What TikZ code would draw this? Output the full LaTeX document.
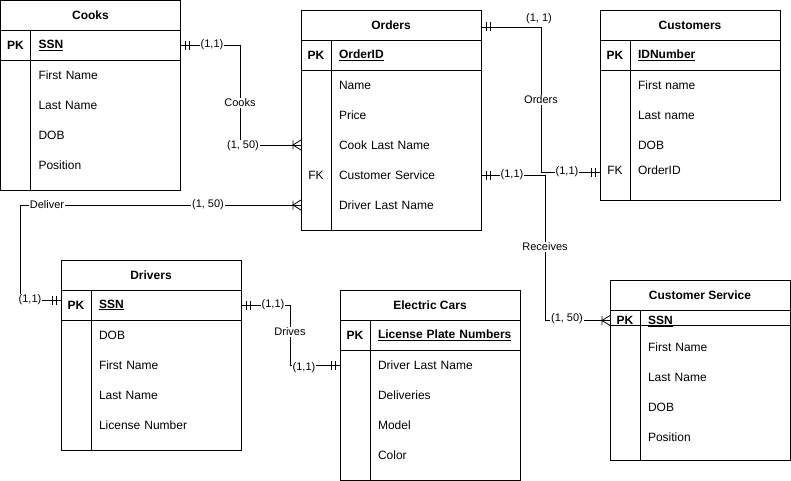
\documentclass[tikz,border=0pt]{standalone}
\usepackage{fontspec}
\setmainfont{Liberation Sans}
\usetikzlibrary{positioning}

\tikzset{
  tblhead/.style={draw, minimum width=180pt, minimum height=30pt, inner sep=0pt, anchor=north west, font=\fontsize{12}{14}\selectfont\bfseries},
  pkcell/.style={draw, minimum width=30pt, minimum height=30pt, inner sep=0pt, font=\fontsize{12}{14}\selectfont\bfseries},
  keycell/.style={draw, text width=134pt, inner xsep=8pt, inner ysep=0pt, minimum height=30pt, align=left, font=\fontsize{12}{14}\selectfont\bfseries},
  leftcol/.style={draw, minimum width=30pt, inner sep=0pt},
  rightcol/.style={draw, minimum width=150pt, inner sep=0pt},
  attr/.style={text width=134pt, inner xsep=8pt, inner ysep=0pt, minimum height=30pt, align=left, font=\fontsize{12}{14}\selectfont},
  fkcell/.style={minimum width=30pt, minimum height=30pt, inner sep=0pt, font=\fontsize{12}{14}\selectfont},
  rel/.style={fill=white, inner sep=1pt, font=\fontsize{11}{13}\selectfont},
  one/.pic={\draw (5,-4.5) -- (5,4.5) (9,-4.5) -- (9,4.5);},
  many/.pic={\draw (8,-4.5) -- (8,4.5) (0,-5) -- (8,0) -- (0,5);}
}

\begin{document}
\begin{tikzpicture}[x=1pt, y=-1pt, line width=0.8pt, every node/.append style={outer sep=0pt}]
\useasboundingbox (0,0) rectangle (791,481);
\fill[white] (0,0) rectangle (791,481);

\node[tblhead] (ctitle) at (0.5,0.5) {Cooks};
\node[pkcell, below right=0pt of ctitle.south west] (cpk) {PK};
\node[keycell, right=0pt of cpk] (ckey) {\underline{SSN}};
\node[leftcol, minimum height=130pt, below=0pt of cpk] (cleft) {};
\node[rightcol, minimum height=130pt, below=0pt of ckey] (cbody) {};
\node[attr, below=0pt of ckey] (cfirst) {First Name};
\node[attr, below=0pt of cfirst] (clast) {Last Name};
\node[attr, below=0pt of clast] (cdob) {DOB};
\node[attr, below=0pt of cdob] (cpos) {Position};

\node[tblhead] (otitle) at (301,10) {Orders};
\node[pkcell, below right=0pt of otitle.south west] (opk) {PK};
\node[keycell, right=0pt of opk] (okey) {\underline{OrderID}};
\node[leftcol, minimum height=160pt, below=0pt of opk] (oleft) {};
\node[rightcol, minimum height=160pt, below=0pt of okey] (obody) {};
\node[attr, below=0pt of okey] (oname) {Name};
\node[attr, below=0pt of oname] (oprice) {Price};
\node[attr, below=0pt of oprice] (ocook) {Cook Last Name};
\node[attr, below=0pt of ocook] (ocs) {Customer Service};
\node[attr, below=0pt of ocs] (odrv) {Driver Last Name};
\node[fkcell, left=0pt of ocs] (ofk) {FK};

\node[tblhead] (utitle) at (600,10) {Customers};
\node[pkcell, below right=0pt of utitle.south west] (upk) {PK};
\node[keycell, right=0pt of upk] (ukey) {\underline{IDNumber}};
\node[leftcol, minimum height=130pt, below=0pt of upk] (uleft) {};
\node[rightcol, minimum height=130pt, below=0pt of ukey] (ubody) {};
\node[attr, below=0pt of ukey] (ufirst) {First name};
\node[attr, below=0pt of ufirst] (ulast) {Last name};
\node[attr, below=0pt of ulast] (udob) {DOB};
\node[attr, below=0pt of udob, yshift=5pt] (uoid) {OrderID};
\node[fkcell, left=0pt of uoid] (ufk) {FK};

\node[tblhead] (dtitle) at (61,260) {Drivers};
\node[pkcell, below right=0pt of dtitle.south west] (dpk) {PK};
\node[keycell, right=0pt of dpk] (dkey) {\underline{SSN}};
\node[leftcol, minimum height=130pt, below=0pt of dpk] (dleft) {};
\node[rightcol, minimum height=130pt, below=0pt of dkey] (dbody) {};
\node[attr, below=0pt of dkey] (ddob) {DOB};
\node[attr, below=0pt of ddob] (dfirst) {First Name};
\node[attr, below=0pt of dfirst] (dlast) {Last Name};
\node[attr, below=0pt of dlast] (dlic) {License Number};

\node[tblhead] (etitle) at (340,290) {Electric Cars};
\node[pkcell, below right=0pt of etitle.south west] (epk) {PK};
\node[keycell, right=0pt of epk] (ekey) {\underline{License Plate Numbers}};
\node[leftcol, minimum height=130pt, below=0pt of epk] (eleft) {};
\node[rightcol, minimum height=130pt, below=0pt of ekey] (ebody) {};
\node[attr, below=0pt of ekey] (edrv) {Driver Last Name};
\node[attr, below=0pt of edrv] (edel) {Deliveries};
\node[attr, below=0pt of edel] (emod) {Model};
\node[attr, below=0pt of emod] (ecol) {Color};

\node[tblhead] (stitle) at (610,280) {Customer Service};
\node[pkcell, minimum height=15pt, text height=14pt, text depth=0pt, below right=0pt of stitle.south west] (spk) {PK};
\node[keycell, minimum height=15pt, text height=14pt, text depth=0pt, right=0pt of spk] (skey) {\underline{SSN}};
\node[leftcol, minimum height=135pt, below=0pt of spk] (sleft) {};
\node[rightcol, minimum height=135pt, below=0pt of skey] (sbody) {};
\node[attr, below=0pt of skey, yshift=-7pt] (sfirst) {First Name};
\node[attr, below=0pt of sfirst] (slast) {Last Name};
\node[attr, below=0pt of slast] (sdob) {DOB};
\node[attr, below=0pt of sdob] (spos) {Position};

\draw (ckey.east) -- ++(60,0) |- (ocook.west -| otitle.west);
\draw ([yshift=-2pt]otitle.east) -- ++(60,0) |- ([yshift=-2pt]uoid.west -| utitle.west);
\draw (ocs.east) -- ++(64,0) |- ([yshift=-3pt]spk.west);
\draw ([yshift=5pt]dpk.west) -- ++(-41,0) |- (odrv.west -| otitle.west);
\draw (dkey.east) -- ++(49,0) |- (edrv.west -| etitle.west);

\pic at (ckey.east) {one};
\pic[rotate=180] at (ocook.west -| otitle.west) {many};
\pic at ([yshift=-2pt]otitle.east) {one};
\pic[rotate=180] at ([yshift=-2pt]uoid.west -| utitle.west) {one};
\pic at (ocs.east) {one};
\pic[rotate=180] at ([yshift=-3pt]spk.west) {many};
\pic[rotate=180] at ([yshift=5pt]dpk.west) {one};
\pic[rotate=180] at (odrv.west -| otitle.west) {many};
\pic at (dkey.east) {one};
\pic[rotate=180] at (edrv.west -| etitle.west) {one};

\node[rel] (lc11) at (212,45) {(1,1)};
\node[rel] (lcooks) at (240,103) {Cooks};
\node[rel] (lc150) at (243,146) {(1, 50)};
\node[rel] (lo11) at (539,19) {(1, 1)};
\node[rel] (lorders) at (541,100) {Orders};
\node[rel] (lu11) at (567,172) {(1,1)};
\node[rel] (lr11) at (512,175) {(1,1)};
\node[rel] (lreceives) at (545,247) {Receives};
\node[rel] (ls150) at (567,319) {(1, 50)};
\node[rel] (ld11) at (30,300) {(1,1)};
\node[rel] (ldeliver) at (47,205) {Deliver};
\node[rel] (ld150) at (208,205) {(1, 50)};
\node[rel] (le11a) at (273,305) {(1,1)};
\node[rel] (ldrives) at (290,332) {Drives};
\node[rel] (le11b) at (304,368) {(1,1)};
\end{tikzpicture}
\end{document}
